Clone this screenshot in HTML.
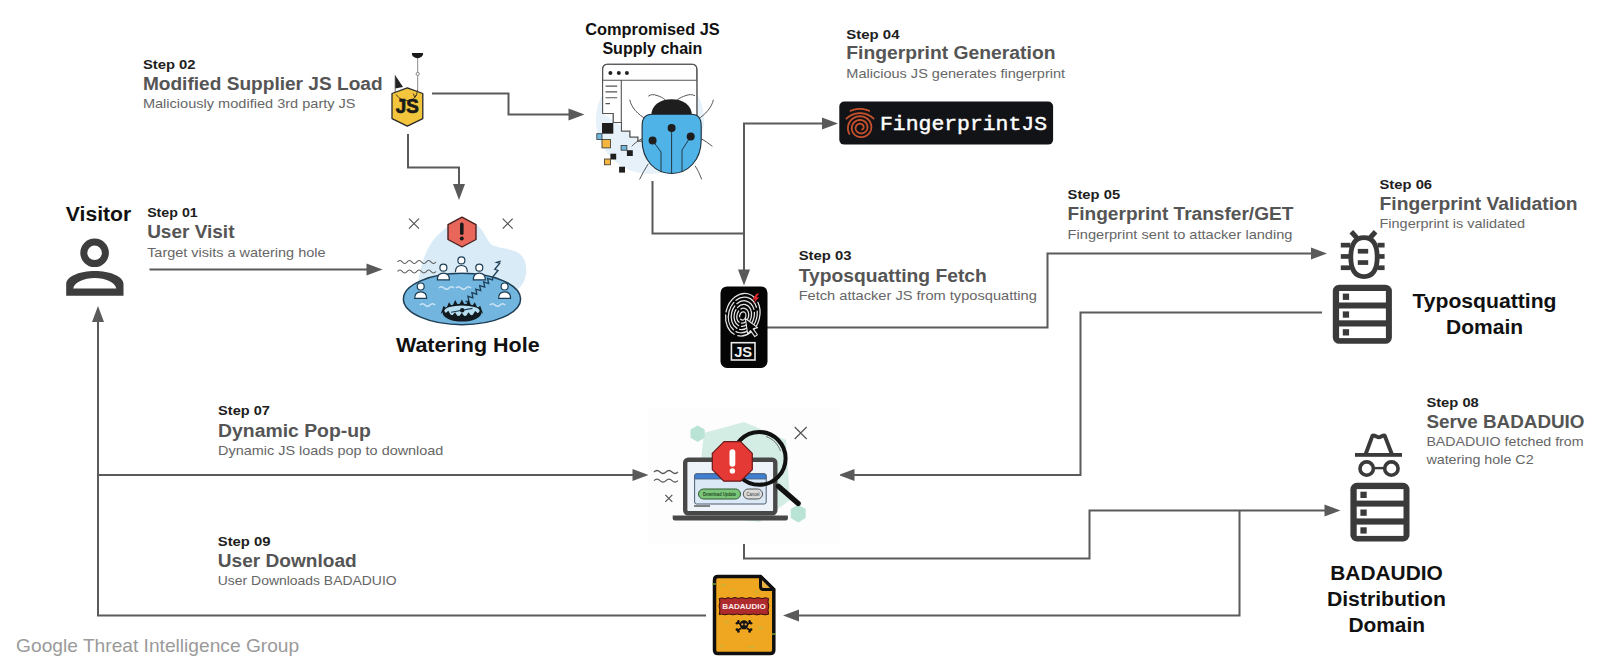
<!DOCTYPE html>
<html><head><meta charset="utf-8">
<style>
html,body{margin:0;padding:0;background:#fff;width:1600px;height:669px;overflow:hidden}
svg{position:absolute;left:0;top:0;display:block}
text{font-family:"Liberation Sans",sans-serif}
.st{font-size:13.5px;font-weight:bold;fill:#202020}
.ti{font-size:18px;font-weight:bold;fill:#555}
.su{font-size:13px;fill:#666}
.lb{font-size:20px;font-weight:bold;fill:#111}
.ln{fill:none;stroke:#5a5a5a;stroke-width:2}
.ar{fill:#5a5a5a}
</style></head>
<body>
<svg width="1600" height="669" viewBox="0 0 1600 669">
<rect width="1600" height="669" fill="#fff"/>

<!-- LINES -->
<g id="lines">
<path class="ln" d="M432 93.5H508.5V114.5H570"/>
<path class="ar" d="M584.5 114.5L568.5 108.5V120.5Z"/>
<path class="ln" d="M408 134V167.5H459V185"/>
<path class="ar" d="M459 200L453 184H465Z"/>
<path class="ln" d="M652.5 181V233.5H744"/>
<path class="ln" d="M744 271V123.5H823"/>
<path class="ar" d="M838 123.5L822 117.5V129.5Z"/>
<path class="ar" d="M744 285.5L738 269.5H750Z"/>
<path class="ln" d="M149.5 269.5H367"/>
<path class="ar" d="M382.5 269.5L366.5 263.5V275.5Z"/>
<path class="ln" d="M767 327.5H1047.5V253.5H1312"/>
<path class="ar" d="M1327 253.5L1311 247.5V259.5Z"/>
<path class="ln" d="M1322 312.5H1080.5V475H854"/>
<path class="ar" d="M838.5 475L854.5 469V481Z"/>
<path class="ln" d="M98 321V615.5H706"/>
<path class="ar" d="M98 306L92 322H104Z"/>
<path class="ln" d="M98 475H633"/>
<path class="ar" d="M648.5 475L632.5 469V481Z"/>
<path class="ln" d="M744 544V558.5H1089.5V510.5H1325"/>
<path class="ar" d="M1340.5 510.5L1324.5 504.5V516.5Z"/>
<path class="ln" d="M1239.5 510.5V615.5H798"/>
<path class="ar" d="M783 615.5L799 609.5V621.5Z"/>
</g>


<!-- VISITOR ICON -->
<g id="visitor" fill="#3d3d3d">
<circle cx="94.6" cy="252.8" r="10.8" fill="none" stroke="#3d3d3d" stroke-width="7"/>
<path fill-rule="evenodd" d="M66.2 295.8V284C66.2 276.5 80 271.1 94.8 271.1S123.5 276.5 123.5 284V295.8Z M73.2 288.6C74.2 282.5 84 278.1 94.8 278.1S115.3 282.5 116.3 288.6Z"/>
</g>

<!-- BUG ICON (typosquatting) -->
<g id="bugicon" fill="#3a3a3a" stroke="none">
<path d="M1364 237.55C1372.98 237.55 1377.2 243.81 1377.2 257.1C1377.2 270.39 1372.98 276.65 1364 276.65C1355.02 276.65 1350.8 270.39 1350.8 257.1C1350.8 243.81 1355.02 237.55 1364 237.55Z" fill="none" stroke="#3a3a3a" stroke-width="4.8"/>
<rect x="1340.8" y="242.8" width="9.5" height="4.7"/><rect x="1340.8" y="254.1" width="9.5" height="4.7"/><rect x="1340.8" y="265.4" width="9.5" height="4.7"/>
<rect x="1377.6" y="242.8" width="7" height="4.7"/><rect x="1377.6" y="254.1" width="7" height="4.7"/><rect x="1377.6" y="265.4" width="7" height="4.7"/>
<path d="M1351.3 231.8L1357.2 238.2" stroke="#3a3a3a" stroke-width="5"/>
<path d="M1375.6 231.8L1369.7 238.2" stroke="#3a3a3a" stroke-width="5"/>
<rect x="1357.8" y="248.9" width="10.4" height="4.7"/><rect x="1357.8" y="260.2" width="10.4" height="4.7"/>
</g>

<!-- SERVER ICONS -->
<g id="server1">
<rect x="1332.8" y="284.7" width="59.1" height="59.1" rx="6.5" fill="#3a3a3a"/>
<rect x="1339.1" y="291" width="46.8" height="11.5" fill="#fff"/>
<rect x="1339.1" y="308.5" width="46.8" height="11.8" fill="#fff"/>
<rect x="1339.1" y="326.5" width="46.8" height="11.6" fill="#fff"/>
<rect x="1342.8" y="293.6" width="6.3" height="6.3" fill="#3a3a3a"/>
<rect x="1342.8" y="311.4" width="6.3" height="6.3" fill="#3a3a3a"/>
<rect x="1342.8" y="329.2" width="6.3" height="6.3" fill="#3a3a3a"/>
</g>
<g id="server2" transform="translate(17.6 198.1)">
<rect x="1332.8" y="284.7" width="59.1" height="58.6" rx="6.5" fill="#3a3a3a"/>
<rect x="1339.1" y="291" width="46.8" height="11.5" fill="#fff"/>
<rect x="1339.1" y="308.5" width="46.8" height="11.8" fill="#fff"/>
<rect x="1339.1" y="326.5" width="46.8" height="11.3" fill="#fff"/>
<rect x="1342.8" y="293.6" width="6.3" height="6.3" fill="#3a3a3a"/>
<rect x="1342.8" y="311.4" width="6.3" height="6.3" fill="#3a3a3a"/>
<rect x="1342.8" y="329.2" width="6.3" height="6.3" fill="#3a3a3a"/>
</g>

<!-- SPY ICON -->
<g id="spy" stroke="#3a3a3a" fill="none">
<rect x="1355" y="453" width="47" height="3.8" fill="#3a3a3a" stroke="none"/>
<path d="M1365.7 454L1372.5 435.6C1375 435 1377 437.3 1378.8 437.3C1380.6 437.3 1382.6 435 1384.7 435.6L1391.8 454" stroke-width="3.9" stroke-linejoin="round"/>
<circle cx="1366.7" cy="468.6" r="6.7" stroke-width="3.6"/>
<circle cx="1391.4" cy="468.6" r="6.7" stroke-width="3.6"/>
<rect x="1373" y="466.9" width="12" height="2.4" fill="#3a3a3a" stroke="none"/>
</g>


<!-- JS HOOK ICON -->
<g id="jshook">
<path d="M417.7 57.5V89.5" stroke="#8a8a8a" stroke-width="1"/>
<circle cx="417.7" cy="73.9" r="1.6" fill="#fff" stroke="#777" stroke-width="0.9"/>
<path d="M411.8 53.3H423.2A5.7 5 0 0 1 411.8 53.3Z" fill="#1a1a1a"/>
<path d="M412 53.6H423" stroke="#1a1a1a" stroke-width="1.2"/>
<path d="M395.2 75.3V88.5L403 87Z" fill="#222"/>
<path d="M395.2 75.3V93" stroke="#444" stroke-width="0.8"/>
<path d="M407.3 87.9L422.8 93.5V118.6L407.3 126.2L392 118.6V93.5Z" fill="#f2c53d" stroke="#2a2a2a" stroke-width="1.3" stroke-linejoin="round"/>
<path d="M396 94.5C399 99 404 100.8 409 100.5C413 100.2 416.5 97.5 417.7 89.5" fill="none" stroke="#3a3020" stroke-width="0.9"/>
<path d="M413.3 93.5L414.8 97.5L416.8 94.5" fill="none" stroke="#3a3020" stroke-width="0.9"/>
<text x="395.8" y="112.9" style="font-size:19.5px;font-weight:bold;fill:#1a1a1a;stroke:#1a1a1a;stroke-width:0.7" textLength="23" lengthAdjust="spacingAndGlyphs">JS</text>
</g>

<!-- BROWSER + BUG -->
<g id="browserbug">
<circle cx="650" cy="120" r="54" fill="#e6f1f9"/>
<path d="M602.6 113.5V69.5Q602.6 64.3 607.8 64.3H691.7Q696.9 64.3 696.9 69.5V116" fill="#fff" stroke="#555" stroke-width="1.1"/>
<path d="M602.6 113.5H613.3V122.5H621.5V131H630V137H638V141H643" fill="#fff" stroke="#555" stroke-width="1.1"/>
<path d="M603 113L603 80.3H696.5V116L643 141H638V137H630V131H621.5V122.5H613.3V113Z" fill="#fff"/>
<path d="M602.6 113.5V69.5Q602.6 64.3 607.8 64.3H691.7Q696.9 64.3 696.9 69.5V116" fill="none" stroke="#555" stroke-width="1.1"/>
<path d="M602.6 80.3H696.9M621.3 80.3V122.5" fill="none" stroke="#555" stroke-width="1.1"/>
<path d="M602.6 113.5H613.3V122.5H621.5V131H630V137H638V141H643" fill="none" stroke="#555" stroke-width="1.1"/>
<circle cx="610.4" cy="72.9" r="2" fill="#222"/><circle cx="618.8" cy="72.9" r="2" fill="#222"/><circle cx="626.9" cy="72.9" r="2" fill="#222"/>
<path d="M605.5 86.1H617.2M605.5 91.9H617.2M605.5 97.8H617.2M605.5 103.6H610" stroke="#555" stroke-width="1.1"/>
<rect x="602" y="123" width="11.3" height="10.7" fill="#1e1e1e"/>
<rect x="596.8" y="133.7" width="5.2" height="5.8" fill="#6fb8dc" stroke="#333" stroke-width="0.8"/>
<rect x="602" y="139.5" width="8.4" height="8.4" fill="#f4b63f" stroke="#333" stroke-width="0.8"/>
<rect x="610.4" y="153.7" width="5.8" height="5.8" fill="#1e1e1e"/>
<rect x="604.6" y="159" width="5.8" height="5.8" fill="#f4b63f" stroke="#333" stroke-width="0.8"/>
<rect x="619.1" y="166.7" width="5.9" height="5.9" fill="#1e1e1e"/>
<rect x="621.1" y="145.4" width="5.8" height="4.8" fill="#6fb8dc" stroke="#333" stroke-width="0.8"/>
<rect x="626.9" y="150.2" width="5.9" height="5.8" fill="#1e1e1e"/>
<g fill="none" stroke="#444" stroke-width="0.9">
<path d="M648.3 96.2C651 94 654 94.5 657 95.5C660 96.5 663 97.5 665.8 100.5"/>
<path d="M695 95.8C692 94 689 94.5 686 95.5C683 96.5 680 97.5 676.5 100.5"/>
<path d="M629.8 99.7C631 107 638 115 646.4 119.1"/>
<path d="M713.4 99.7C712 107 705 115 697.9 119.1"/>
<path d="M642 138.6C638 141 634 143.5 631.8 146.3"/>
<path d="M701.2 138.6C705 141 709 143.5 712.4 146.3"/>
<path d="M648.3 163.8C645 169 642 174 639.6 179.4"/>
<path d="M695 165.8C698 170 700 175 701.7 179.4"/>
</g>
<path d="M651.2 116.2C651.2 105 660 99.3 671.6 99.3S692 105 692 116.2Z" fill="#1e1e1e"/>
<path d="M652 114.3H691.3Q701.2 114.3 701.2 126V140C701.2 160 688 173.5 671.6 173.5S642.1 160 642.1 140V126Q642.1 114.3 652 114.3Z" fill="#4fb3e8" stroke="#1e2a33" stroke-width="1.1"/>
<g fill="none" stroke="#1e2a33" stroke-width="0.9">
<path d="M671.6 128V173"/>
<path d="M652.6 140.5L661 152V172"/>
<path d="M690.7 136.6L682 150V172"/>
</g>
<circle cx="671.6" cy="127.9" r="4" fill="#1e1e1e"/>
<circle cx="652.6" cy="140.5" r="4" fill="#1e1e1e"/>
<circle cx="690.7" cy="136.6" r="4" fill="#1e1e1e"/>
</g>

<!-- FINGERPRINTJS LOGO -->
<g id="fpjs">
<rect x="839.3" y="101.5" width="213.8" height="43.1" rx="5" fill="#121317"/>
<g fill="none" stroke="#c8522e" stroke-width="1.8" stroke-linecap="round">
<path d="M849.36 133.90 L849.04 133.25 L848.76 132.59 L848.52 131.92 L848.32 131.23 L848.16 130.54 L848.04 129.84 L847.97 129.14 L847.93 128.43 L847.94 127.73 L847.99 127.03 L848.07 126.34 L848.20 125.65 L848.37 124.98 L848.58 124.31 L848.83 123.66 L849.11 123.03 L849.43 122.42 L849.78 121.82 L850.17 121.25 L850.58 120.71 L851.03 120.18 L851.51 119.69 L852.01 119.22 L852.54 118.79 L853.09 118.38 L853.67 118.01 L854.26 117.67 L854.87 117.37 L855.49 117.10 L856.13 116.86 L856.78 116.67 L857.44 116.51 L858.10 116.38 L858.77 116.30 L859.44 116.25 L860.11 116.23 L860.78 116.26 L861.44 116.32 L862.10 116.42 L862.74 116.56 L863.38 116.72 L864.00 116.93 L864.61 117.17 L865.20 117.44 L865.78 117.74 L866.33 118.07 L866.86 118.43 L867.37 118.82 L867.85 119.23 L868.30 119.67 L868.73 120.14 L869.13 120.62 L869.50 121.12 L869.83 121.64 L870.14 122.18 L870.41 122.73 L870.65 123.30 L870.85 123.87 L871.02 124.46 L871.15 125.05 L871.25 125.64 L871.31 126.24 L871.34 126.83 L871.33 127.43 L871.29 128.02 L871.21 128.61 L871.10 129.19 L870.96 129.76 L870.78 130.32 L870.57 130.87 L870.33 131.40 L870.06 131.92 L869.76 132.42 L869.43 132.90 L869.08 133.36 L868.70 133.80 L868.29 134.22 L867.87 134.61 L867.42 134.97 L866.96 135.31 L866.47 135.62 L865.97 135.91 L865.46 136.16 L864.94 136.39 L864.40 136.58 L863.85 136.74 L863.30 136.88 L862.75 136.98 L862.19 137.05 L861.63 137.09 L861.07 137.09 L860.51 137.07 L859.96 137.01 L859.41 136.93 L858.87 136.82 L858.34 136.67 L857.82 136.50 L857.32 136.30 L856.82 136.07 L856.35 135.82 L855.89 135.54 L855.45 135.24 L855.03 134.91 L854.63 134.57 L854.26 134.20 L853.91 133.82 L853.58 133.41 L853.28 133.00 L853.00 132.56 L852.75 132.12 L852.53 131.66 L852.34 131.19 L852.17 130.72 L852.04 130.24 L851.93 129.75 L851.85 129.26 L851.80 128.77 L851.79 128.28 L851.79 127.79 L851.83 127.30 L851.90 126.82 L851.99 126.35 L852.12 125.88 L852.26 125.42 L852.44 124.97 L852.64 124.54 L852.86 124.12 L853.11 123.71 L853.38 123.32 L853.67 122.95 L853.99 122.59 L854.32 122.26 L854.66 121.94 L855.03 121.65 L855.41 121.38 L855.80 121.13 L856.21 120.90 L856.63 120.70 L857.05 120.52 L857.49 120.37 L857.93 120.24 L858.38 120.14 L858.83 120.06 L859.28 120.01 L859.73 119.98 L860.18 119.98 L860.63 120.00 L861.07 120.05 L861.51 120.12 L861.94 120.22 L862.36 120.34 L862.78 120.48 L863.18 120.64 L863.57 120.83 L863.95 121.03 L864.31 121.26 L864.66 121.50 L864.99 121.77 L865.30 122.04 L865.60 122.34 L865.87 122.65 L866.13 122.97 L866.36 123.30 L866.58 123.65 L866.77 124.00 L866.94 124.37 L867.09 124.74 L867.21 125.11 L867.31 125.49 L867.39 125.87 L867.45 126.26 L867.48 126.65 L867.49 127.03 L867.48 127.41 L867.44 127.79 L867.38 128.17 L867.31 128.54 L867.20 128.90 L867.08 129.26 L866.94 129.60 L866.78 129.94 L866.60 130.26 L866.41 130.57 L866.19 130.87 L865.96 131.16 L865.72 131.43 L865.46 131.68 L865.19 131.92 L864.90 132.14 L864.61 132.35 L864.30 132.53 L863.98 132.70 L863.66 132.85 L863.33 132.98 L863.00 133.09 L862.66 133.18 L862.32 133.25 L861.98 133.31 L861.64 133.34 L861.29 133.36 L860.95 133.35 L860.61 133.33 L860.28 133.28 L859.95 133.22 L859.63 133.14 L859.31 133.05 L859.00 132.94 L858.70 132.81 L858.42 132.66 L858.14 132.50 L857.87 132.33 L857.62 132.14 L857.38 131.94 L857.15 131.73 L856.93 131.51 L856.74 131.27 L856.55 131.03 L856.39 130.78 L856.24 130.52 L856.10 130.26 L855.98 129.99 L855.88 129.72 L855.80 129.44 L855.73 129.16 L855.68 128.88 L855.65 128.60 L855.63 128.32 L855.63 128.04 L855.65 127.76 L855.68 127.49 L855.73 127.22 L855.80 126.96 L855.88 126.70 L855.97 126.45 L856.08 126.20 L856.20 125.97 L856.34 125.74 L856.49 125.52 L856.64 125.32 L856.81 125.12 L856.99 124.94 L857.18 124.76 L857.38 124.60 L857.59 124.45 L857.80 124.32 L858.02 124.20 L858.24 124.09 L858.47 123.99 L858.70 123.91 L858.93 123.84 L859.17 123.79 L859.40 123.75 L859.64 123.72 L859.87 123.71 L860.11 123.71 L860.34 123.72 L860.57 123.75 L860.79 123.78 L861.01 123.83 L861.23 123.90 L861.44 123.97 L861.64 124.06 L861.83 124.15 L862.02 124.26 L862.20 124.37 L862.37 124.49 L862.53 124.63 L862.68 124.77 L862.82 124.91 L862.95 125.06 L863.07 125.22 L863.18 125.39 L863.28 125.55 L863.37 125.72 L863.44 125.90 L863.51 126.07 L863.56 126.25 L863.60 126.43 L863.63 126.61 L863.65 126.79 L863.66 126.96 L863.66 127.14 L863.64 127.31 L863.62 127.48 L863.59 127.65 L863.55 127.81 L863.49 127.97 L863.43 128.12 L863.36 128.27 L863.29 128.41 L863.20 128.55 L863.11 128.68 L863.01 128.80 L862.91 128.91 L862.80 129.02 L862.68 129.12 L862.56 129.21 L862.44 129.29 L862.31 129.37 L862.18 129.43"/>
<path d="M850.59 110.88 L851.03 110.69 L851.47 110.51 L851.92 110.34 L852.37 110.17 L852.82 110.02 L853.28 109.88 L853.74 109.74 L854.21 109.62 L854.67 109.51 L855.14 109.40 L855.61 109.31 L856.08 109.22 L856.55 109.15 L857.03 109.08 L857.51 109.03 L857.98 108.98 L858.46 108.95 L858.94 108.92 L859.42 108.91 L859.90 108.90 L860.38 108.91 L860.86 108.92 L861.34 108.95 L861.82 108.98 L862.29 109.03 L862.77 109.08 L863.25 109.15 L863.72 109.22 L864.19 109.31 L864.66 109.40 L865.13 109.51 L865.59 109.62 L866.06 109.74 L866.52 109.88 L866.98 110.02 L867.43 110.17 L867.88 110.34 L868.33 110.51 L868.77 110.69 L869.21 110.88"/>
<path d="M846.38 118.70 L846.94 118.19 L847.51 117.70 L848.10 117.23 L848.70 116.78 L849.33 116.36 L849.96 115.96 L850.62 115.59 L851.29 115.24 L851.97 114.92 L852.66 114.63 L853.36 114.36 L854.07 114.12 L854.80 113.90 L855.52 113.72 L856.26 113.56 L857.00 113.43 L857.75 113.33 L858.50 113.26 L859.25 113.21 L860.00 113.20 L860.75 113.21 L861.50 113.26 L862.25 113.33 L863.00 113.43 L863.74 113.56 L864.48 113.72 L865.20 113.90 L865.93 114.12 L866.64 114.36 L867.34 114.63 L868.03 114.92 L868.71 115.24 L869.38 115.59 L870.04 115.96 L870.67 116.36 L871.30 116.78 L871.90 117.23 L872.49 117.70 L873.06 118.19 L873.62 118.70"/>
</g>
<text x="880" y="130.3" style="font-family:'Liberation Mono',monospace;font-size:21px;fill:#fff;stroke:#fff;stroke-width:0.45" textLength="167" lengthAdjust="spacingAndGlyphs">FingerprintJS</text>
</g>


<!-- WATERING HOLE -->
<g id="wh">
<path d="M418 283.5C420 268 424 255 430 245C436 236 442 230 449 226C455 222 470 222 478 226C484 230 486 240 492 245C500 249 512 248 520 254C527 260 528 272 524 281C520 290 512 294 505 296L430 296Z" fill="#d9ebf6"/>
<g stroke="#555" stroke-width="1.2" fill="none">
<path d="M409 218.7L419 228.7M419 218.7L409 228.7"/>
<path d="M502.7 218.7L512.7 228.7M512.7 218.7L502.7 228.7"/>
<path d="M397.5 262q2.4 -3 4.8 0t4.8 0t4.8 0t4.8 0t4.8 0t4.8 0t4.8 0t4.8 0"/>
<path d="M397.5 271.5q2.4 -3 4.8 0t4.8 0t4.8 0t4.8 0t4.8 0t4.8 0t4.8 0t4.8 0"/>
</g>
<path d="M462 217.1L476 224.6V239.5L462 247L448 239.5V224.6Z" fill="#e8675a" stroke="#4a2020" stroke-width="1.4" stroke-linejoin="round"/>
<rect x="460" y="222.5" width="3.6" height="12.5" rx="1.8" fill="#1a1a1a"/>
<circle cx="461.8" cy="238.6" r="2" fill="#1a1a1a"/>
<ellipse cx="462" cy="299" rx="58.6" ry="25.7" fill="#72b5de" stroke="#1d3d55" stroke-width="1.5"/>
<g stroke="#cfe6f6" stroke-width="1.5" fill="none">
<path d="M439 288q2.5 -2.5 5 0t5 0t5 0"/><path d="M456 288q2.5 -2.5 5 0t5 0t5 0"/>
<path d="M420 305q2.5 -2.5 5 0t5 0t5 0"/><path d="M490 305q2.5 -2.5 5 0t5 0t5 0"/>
</g>
<g fill="#fff" stroke="#1d3d55" stroke-width="1.2">
<circle cx="461.4" cy="260.4" r="3.5"/><path d="M455.4 272.2C455.4 267 458 265.5 461.4 265.5S467.4 267 467.4 272.2"/>
<circle cx="443.4" cy="267.7" r="3.5"/><path d="M437.4 279.8C437.4 274.5 440 273.1 443.4 273.1S449.4 274.5 449.4 279.8Z"/>
<circle cx="479.3" cy="267.7" r="3.5"/><path d="M473.3 279.8C473.3 274.5 476 273.1 479.3 273.1S485.3 274.5 485.3 279.8Z"/>
<circle cx="420.7" cy="286.5" r="3.5"/><path d="M414.7 298.4C414.7 293.2 417.5 291.8 420.7 291.8S426.7 293.2 426.7 298.4Z"/>
<circle cx="504.6" cy="286.5" r="3.5"/><path d="M498.6 298.4C498.6 293.2 501.4 291.8 504.6 291.8S510.6 293.2 510.6 298.4Z"/>
</g>
<path d="M465.5 301.5 L468.9 301.3 L467.9 296.3 L472.9 297.8 L471.9 292.7 L476.8 294.2 L475.8 289.2 L480.7 290.6 L479.7 285.6 L484.7 287.1 L483.7 282.0 L488.6 283.5 L487.6 278.4 L492.5 279.9 L493.0 276.5 L498.0 270.5 L494.8 269.3 L499.8 263.2 L496.6 262.4 L500.8 261.0" fill="none" stroke="#1d3d55" stroke-width="1.3" stroke-linejoin="miter"/>
<ellipse cx="462" cy="312.6" rx="19.5" ry="8.9" fill="#121a20"/>
<path d="M440.7 314.1L443.6 305.8L446.5 308.7ZM446.1 308.9L449.0 302.2L451.9 306.5ZM452.3 306.4L455.2 300.0L458.1 305.4ZM459.0 305.3L461.9 299.6L464.8 305.3ZM465.7 305.4L468.6 300.0L471.5 306.3ZM471.9 306.4L474.8 302.2L477.7 308.8ZM477.3 308.6L480.2 305.8L483.1 314.1Z" fill="#121a20"/>
<ellipse cx="462" cy="310.8" rx="17.6" ry="5.3" fill="#b7ddf0"/>
<path d="M445.2 313.4L448.3 310.7L451.4 316.0ZM451.9 316.1L455.0 312.3L458.1 317.0ZM458.7 317.0L461.8 312.7L464.9 317.0ZM465.4 317.0L468.5 312.3L471.6 316.2ZM472.1 316.1L475.2 310.9L478.3 313.8Z" fill="#121a20"/>
<path d="M451 312.2L472.5 308.4" stroke="#1d3d55" stroke-width="1.1"/>
<circle cx="462.2" cy="310.3" r="2.2" fill="#121a20"/>
</g>

<!-- PHONE FINGERPRINT JS -->
<g id="phone">
<rect x="720.5" y="286.4" width="47" height="81.6" rx="6.5" fill="#050505"/>
<g fill="none" stroke="#e6e6e6" stroke-width="1.25" stroke-linecap="round">
<ellipse cx="742.8" cy="315.95" rx="3.08" ry="4.10" stroke-dasharray="7 2.5 40 3" transform="rotate(14 742.8 315.95)"/>
<ellipse cx="742.8" cy="315.70" rx="5.86" ry="7.60" stroke-dasharray="10 2.5 12 3 60" transform="rotate(14 742.8 315.70)"/>
<ellipse cx="742.8" cy="315.45" rx="8.64" ry="11.10" stroke-dasharray="14 3 18 2.5 30 3 70" transform="rotate(14 742.8 315.45)"/>
<ellipse cx="742.8" cy="315.20" rx="11.42" ry="14.60" stroke-dasharray="20 3 25 3 22 3 80" transform="rotate(14 742.8 315.20)"/>
<ellipse cx="742.8" cy="314.95" rx="14.20" ry="18.10" stroke-dasharray="28 3 30 3 26 4 90" transform="rotate(14 742.8 314.95)"/>
<ellipse cx="742.8" cy="314.70" rx="16.98" ry="21.60" stroke-dasharray="30 4 22 3 40 5 100" transform="rotate(14 742.8 314.70)"/>
</g>
<path d="M745.4 318.5L747.6 333.8L750.5 330.6L754.8 336.6L757.4 334.8L753.2 328.9L757.6 327.6Z" fill="#050505" stroke="#e6e6e6" stroke-width="1.1" stroke-linejoin="round"/>
<path d="M756.5 293.5L752.5 299.5H755.3L752.8 304.2L759.2 297.3H756.4L759.2 293.5Z" fill="#e0262b"/>
<rect x="731.4" y="342.7" width="23.6" height="17.3" fill="none" stroke="#e8e8e8" stroke-width="1.6"/>
<text x="734.2" y="357" style="font-size:14px;font-weight:bold;fill:#f0f0f0" textLength="18" lengthAdjust="spacingAndGlyphs">JS</text>
</g>


<!-- LAPTOP POPUP -->
<g id="laptop">
<rect x="648" y="409" width="192" height="134" fill="#fdfdfd"/>
<path d="M704 433L744 422L786 440L790 500L760 522L706 516L700 470Z" fill="#d3ede5"/>
<path d="M690.5 429.6L697.6 425.5L704.7 429.6V437.8L697.6 441.9L690.5 437.8Z" fill="#b9e3d5"/>
<path d="M790.7 509L798.2 504.6L805.7 509V518L798.2 522.4L790.7 518Z" fill="#b9e3d5"/>
<g stroke="#555" stroke-width="1.2" fill="none">
<path d="M794.7 427L806.7 439M806.7 427L794.7 439"/>
<path d="M665.3 494.8L672.3 501.8M672.3 494.8L665.3 501.8"/>
<path d="M654 472q3 -3 6 0t6 0t6 0t6 0"/>
<path d="M654 480.6q3 -3 6 0t6 0t6 0t6 0"/>
</g>
<rect x="685.2" y="459.8" width="90.1" height="53.5" rx="3" fill="#eef3fa" stroke="#484848" stroke-width="4.4"/>
<path d="M672.7 515.5H787.9V518.2Q787.9 520.4 785.7 520.4H674.9Q672.7 520.4 672.7 518.2Z" fill="#484848"/>
<rect x="694.6" y="473.8" width="71.6" height="30.2" rx="2" fill="#dbe8f6" stroke="#4d5d73" stroke-width="1"/>
<path d="M694.6 479V475.8Q694.6 473.8 696.6 473.8H764.2Q766.2 473.8 766.2 475.8V479Z" fill="#3e7fd2" stroke="#4d5d73" stroke-width="0.8"/>
<rect x="698.5" y="489" width="42" height="10" rx="5" fill="#7bc57a" stroke="#2f5a2f" stroke-width="1"/>
<text x="703" y="496" style="font-size:5px;font-weight:bold;fill:#1f4a1f" textLength="33" lengthAdjust="spacingAndGlyphs">Download Update</text>
<rect x="743.3" y="489" width="19.3" height="10" rx="5" fill="#d9d9d9" stroke="#555" stroke-width="1"/>
<text x="746.5" y="496" style="font-size:5px;fill:#333" textLength="13" lengthAdjust="spacingAndGlyphs">Cancel</text>
<path d="M694 506H710" stroke="#444" stroke-width="1.3"/>
<path d="M713.5 486L778.4 486.3" stroke="none"/>
<path d="M778.4 486.3L798.2 503.5" stroke="#111" stroke-width="5.2" stroke-linecap="round"/>
<circle cx="759.2" cy="458.4" r="26.4" fill="none" stroke="#111" stroke-width="4"/>
<path d="M766 436.5C773 439 778 444 780.5 451" fill="none" stroke="#666" stroke-width="0.9"/>
<path d="M724 441.6H740.6L752.3 453.3V469.6L740.6 481.2H724L712.3 469.6V453.3Z" fill="#e53935" stroke="#6a1a1a" stroke-width="1.2" stroke-linejoin="round"/>
<rect x="729.5" y="449.2" width="5.8" height="17.5" rx="2.9" fill="#fff"/>
<circle cx="732.4" cy="470.9" r="2.7" fill="#fff"/>
</g>

<!-- BADAUDIO FILE -->
<g id="file">
<path d="M718 576.4H760.5L773.8 589.6V650Q773.8 653.6 770.2 653.6H718Q714.5 653.6 714.5 650V580Q714.5 576.4 718 576.4Z" fill="#efa620" stroke="#0f0f0f" stroke-width="3.5" stroke-linejoin="round"/>
<path d="M760.5 576.4V586.6Q760.5 589.6 763.5 589.6H773.8Z" fill="#e8b040" stroke="#0f0f0f" stroke-width="3" stroke-linejoin="round"/>
<path d="M719.2 598.6L722 598L725 598.8L728 597.6L731 598.6L735 597.4L738 598.4L742 597.6L746 598.6L750 597.6L754 598.6L758 597.6L762 598.6L765 597.8L768.5 598.4L768 602L768.8 606L768 610L768.6 614.2L765 614.8L761 614L757 614.9L753 614L749 614.8L745 614L741 614.8L737 614L733 614.8L729 614L725 614.8L721.5 614.1L719.3 614.6L719.9 610L719.1 606L719.9 602Z" fill="#ad2a2d" stroke="#3a0d0d" stroke-width="1"/>
<text x="722.3" y="609.3" style="font-size:7.8px;font-weight:bold;fill:#fbecec" textLength="43.5" lengthAdjust="spacingAndGlyphs">BADAUDIO</text>
<g fill="#141414">
<circle cx="744" cy="624.6" r="4.3"/>
<rect x="741.4" y="626.6" width="5.2" height="2.6" rx="1"/>
<path d="M737.5 622.3L741 624.5M750.5 622.3L747 624.5M737.5 630.5L741 628.3M750.5 630.5L747 628.3" stroke="#141414" stroke-width="1.8"/>
<circle cx="736.9" cy="623.2" r="1.3"/><circle cx="738.4" cy="621.4" r="1.3"/>
<circle cx="751.1" cy="623.2" r="1.3"/><circle cx="749.6" cy="621.4" r="1.3"/>
<circle cx="736.9" cy="629.6" r="1.3"/><circle cx="738.4" cy="631.4" r="1.3"/>
<circle cx="751.1" cy="629.6" r="1.3"/><circle cx="749.6" cy="631.4" r="1.3"/>
</g>
<circle cx="742.3" cy="624.4" r="1.1" fill="#d9a040"/><circle cx="745.7" cy="624.4" r="1.1" fill="#d9a040"/>
<g stroke="#9cc044" stroke-width="1" opacity="0.7">
<path d="M721 585H726M755 592H759M724 622H729M758 628H763M720 646H724M748 647H755M731 590H735"/>
</g>
<path d="M712 584H716M772 634H776" stroke="#8cbf3f" stroke-width="1.4" opacity="0.8"/>
</g>

<!-- TEXT -->
<g id="texts">
<text class="st" x="142.90" y="68.5" textLength="52.70" lengthAdjust="spacingAndGlyphs">Step 02</text>
<text class="ti" x="142.90" y="90" textLength="239.70" lengthAdjust="spacingAndGlyphs">Modified Supplier JS Load</text>
<text class="su" x="142.90" y="108" textLength="212.70" lengthAdjust="spacingAndGlyphs">Maliciously modified 3rd party JS</text>

<text style="font-size:16px;font-weight:bold;fill:#111" x="585.20" y="34.5" textLength="134.60" lengthAdjust="spacingAndGlyphs">Compromised JS</text>
<text style="font-size:16px;font-weight:bold;fill:#111" x="602.40" y="54.2" textLength="100.00" lengthAdjust="spacingAndGlyphs">Supply chain</text>

<text class="st" x="846.30" y="38.5" textLength="53.20" lengthAdjust="spacingAndGlyphs">Step 04</text>
<text class="ti" x="846.30" y="59.3" textLength="209.20" lengthAdjust="spacingAndGlyphs">Fingerprint Generation</text>
<text class="su" x="846.30" y="77.6" textLength="218.80" lengthAdjust="spacingAndGlyphs">Malicious JS generates fingerprint</text>

<text class="lb" x="65.80" y="221" textLength="65.40" lengthAdjust="spacingAndGlyphs">Visitor</text>
<text class="st" x="147.15" y="217.2" textLength="50.55" lengthAdjust="spacingAndGlyphs">Step 01</text>
<text class="ti" x="147.15" y="238.2" textLength="87.35" lengthAdjust="spacingAndGlyphs">User Visit</text>
<text class="su" x="147.15" y="256.9" textLength="178.35" lengthAdjust="spacingAndGlyphs">Target visits a watering hole</text>

<text class="lb" x="395.90" y="352" textLength="143.70" lengthAdjust="spacingAndGlyphs">Watering Hole</text>

<text class="st" x="798.70" y="260.4" textLength="52.80" lengthAdjust="spacingAndGlyphs">Step 03</text>
<text class="ti" x="798.70" y="282.3" textLength="188.20" lengthAdjust="spacingAndGlyphs">Typosquatting Fetch</text>
<text class="su" x="798.70" y="300.4" textLength="238.10" lengthAdjust="spacingAndGlyphs">Fetch attacker JS from typosquatting</text>

<text class="st" x="1067.60" y="198.5" textLength="52.50" lengthAdjust="spacingAndGlyphs">Step 05</text>
<text class="ti" x="1067.60" y="220.4" textLength="225.80" lengthAdjust="spacingAndGlyphs">Fingerprint Transfer/GET</text>
<text class="su" x="1067.60" y="238.8" textLength="224.90" lengthAdjust="spacingAndGlyphs">Fingerprint sent to attacker landing</text>

<text class="st" x="1379.50" y="189.2" textLength="52.60" lengthAdjust="spacingAndGlyphs">Step 06</text>
<text class="ti" x="1379.50" y="210.3" textLength="198.10" lengthAdjust="spacingAndGlyphs">Fingerprint Validation</text>
<text class="su" x="1379.50" y="228" textLength="145.60" lengthAdjust="spacingAndGlyphs">Fingerprint is validated</text>

<text class="lb" x="1412.40" y="308.3" textLength="144.10" lengthAdjust="spacingAndGlyphs">Typosquatting</text>
<text class="lb" x="1446.10" y="333.5" textLength="77.00" lengthAdjust="spacingAndGlyphs">Domain</text>

<text class="st" x="1426.40" y="406.9" textLength="52.40" lengthAdjust="spacingAndGlyphs">Step 08</text>
<text class="ti" x="1426.40" y="428.2" textLength="158.10" lengthAdjust="spacingAndGlyphs">Serve BADADUIO</text>
<text class="su" x="1426.40" y="446.3" textLength="157.20" lengthAdjust="spacingAndGlyphs">BADADUIO fetched from</text>
<text class="su" x="1426.40" y="463.5" textLength="107.20" lengthAdjust="spacingAndGlyphs">watering hole C2</text>

<text class="lb" x="1330.30" y="580.4" textLength="112.50" lengthAdjust="spacingAndGlyphs">BADAUDIO</text>
<text class="lb" x="1326.90" y="605.9" textLength="119.00" lengthAdjust="spacingAndGlyphs">Distribution</text>
<text class="lb" x="1348.40" y="632.2" textLength="76.60" lengthAdjust="spacingAndGlyphs">Domain</text>

<text class="st" x="218.10" y="415.2" textLength="51.75" lengthAdjust="spacingAndGlyphs">Step 07</text>
<text class="ti" x="218.10" y="437" textLength="152.70" lengthAdjust="spacingAndGlyphs">Dynamic Pop-up</text>
<text class="su" x="218.10" y="455" textLength="225.30" lengthAdjust="spacingAndGlyphs">Dynamic JS loads pop to download</text>

<text class="st" x="217.80" y="545.7" textLength="52.70" lengthAdjust="spacingAndGlyphs">Step 09</text>
<text class="ti" x="217.80" y="567" textLength="139.00" lengthAdjust="spacingAndGlyphs">User Download</text>
<text class="su" x="217.80" y="584.9" textLength="178.80" lengthAdjust="spacingAndGlyphs">User Downloads BADADUIO</text>

<text style="font-size:19px;fill:#9a9a9a" x="16.10" y="651.5" textLength="283.10" lengthAdjust="spacingAndGlyphs">Google Threat Intelligence Group</text>
</g>

</svg>
</body></html>
